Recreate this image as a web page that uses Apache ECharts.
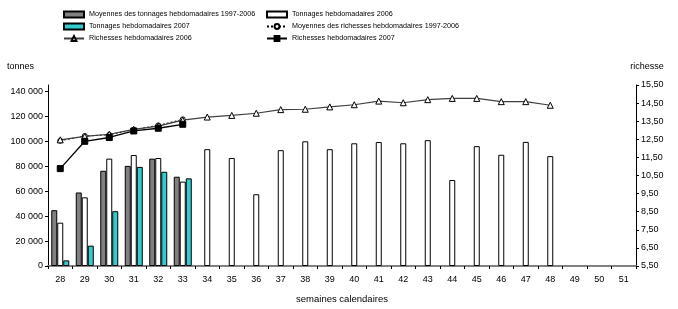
<!DOCTYPE html>
<html><head><meta charset="utf-8">
<script src="https://cdn.jsdelivr.net/npm/echarts@6/dist/echarts.min.js"></script>
<style>html,body{margin:0;padding:0;background:#fff}#c{width:678px;height:309px}</style>
</head><body><div id="c"></div>
<script>
const weeks = ['28','29','30','31','32','33','34','35','36','37','38','39','40','41','42','43','44','45','46','47','48','49','50','51'];
const moyTonnages = [44700, 58900, 76300, 80200, 86000, 71500];
const ton2006 = [34700, 55000, 86000, 88900, 86500, 67600, 93600, 86500, 57500, 92800, 99900, 93600, 98300, 99300, 98300, 100800, 68900, 96000, 89100, 99400, 88000];
const ton2007 = [4500, 16300, 43900, 79400, 75500, 70200];
const rich2006 = [12.47, 12.66, 12.78, 13.05, 13.23, 13.56, 13.73, 13.82, 13.94, 14.14, 14.16, 14.29, 14.41, 14.61, 14.52, 14.69, 14.76, 14.76, 14.58, 14.58, 14.38];
const moyRich = [12.42, 12.68, 12.75, 13.03, 13.27, 13.60];
const rich2007 = [10.88, 12.39, 12.60, 12.96, 13.11, 13.33];
const leftTicks = {min: 0, max: 145000, interval: 20000};
const rightTicks = {min: 5.5, max: 15.5, interval: 1};

const names = {
  mt: 'Moyennes des tonnages hebdomadaires 1997-2006',
  t6: 'Tonnages hebdomadaires 2006',
  t7: 'Tonnages hebdomadaires 2007',
  mr: 'Moyennes des richesses hebdomadaires 1997-2006',
  r6: 'Richesses hebdomadaires 2006',
  r7: 'Richesses hebdomadaires 2007'
};
const FONT = 'Liberation Sans, Arial, sans-serif';
const txt = {fontFamily: FONT, fontSize: 9, color: '#000'};
const chart = echarts.init(document.getElementById('c'), null, {renderer: 'canvas'});
const legendBase = {
  orient: 'vertical', top: 10, itemWidth: 20, itemHeight: 6, itemGap: 3,
  textStyle: {fontFamily: FONT, fontSize: 7.2, color: '#000', lineHeight: 9}, selectedMode: false, padding: 0
};
chart.setOption({
  animation: false,
  backgroundColor: '#fff',
  legend: [
    Object.assign({}, legendBase, {left: 63, data: [
      {name: names.mt, icon: 'rect'}, {name: names.t7, icon: 'rect'}, {name: names.r6}]}),
    Object.assign({}, legendBase, {left: 266, data: [
      {name: names.t6, icon: 'rect'}, {name: names.mr}, {name: names.r7}]})
  ],
  grid: {left: 48, right: 42, top: 85, bottom: 40},
  xAxis: {
    type: 'category', data: weeks, boundaryGap: true,
    name: 'semaines calendaires', nameLocation: 'middle', nameGap: 28,
    nameTextStyle: Object.assign({}, txt, {fontSize: 9.5}),
    axisLine: {lineStyle: {color: '#808080', width: 2}},
    axisTick: {show: true, length: 3, lineStyle: {color: '#000', width: 1}},
    axisLabel: Object.assign({}, txt, {margin: 9})
  },
  yAxis: [
    {
      type: 'value', min: leftTicks.min, max: leftTicks.max, interval: leftTicks.interval,
      name: 'tonnes', nameLocation: 'end', nameGap: 14,
      nameTextStyle: Object.assign({}, txt, {align: 'right', padding: [0, 14, 0, 0]}),
      splitLine: {show: false},
      axisLine: {show: true, lineStyle: {color: '#000', width: 1}},
      axisTick: {show: true, length: 3, lineStyle: {color: '#000'}},
      axisLabel: Object.assign({}, txt, {margin: 5, showMaxLabel: false,
        formatter: v => String(v).replace(/\B(?=(\d{3})+(?!\d))/g, ' ')})
    },
    {
      type: 'value', min: rightTicks.min, max: rightTicks.max, interval: rightTicks.interval,
      name: 'richesse', nameLocation: 'end', nameGap: 14,
      nameTextStyle: Object.assign({}, txt, {align: 'center', padding: [0, 0, 0, 22]}),
      splitLine: {show: false},
      axisLine: {show: true, lineStyle: {color: '#000', width: 1}},
      axisTick: {show: true, length: 3, lineStyle: {color: '#000'}},
      axisLabel: Object.assign({}, txt, {margin: 5,
        formatter: v => v.toFixed(2).replace('.', ',')})
    }
  ],
  series: [
    {name: names.mt, type: 'bar', data: moyTonnages, barWidth: 6, barGap: '0%',
     itemStyle: {color: '#808080', borderColor: '#000', borderWidth: 1}},
    {name: names.t6, type: 'bar', data: ton2006, barWidth: 6, barGap: '0%',
     itemStyle: {color: '#fff', borderColor: '#000', borderWidth: 1}},
    {name: names.t7, type: 'bar', data: ton2007, barWidth: 6, barGap: '0%',
     itemStyle: {color: '#33CCCC', borderColor: '#000', borderWidth: 1}},
    {name: names.mr, type: 'line', yAxisIndex: 1, data: moyRich,
     symbol: 'circle', symbolSize: 5,
     lineStyle: {color: '#000', width: 1, type: [2, 2]},
     itemStyle: {color: '#fff', borderColor: '#000', borderWidth: 1}},
    {name: names.r6, type: 'line', yAxisIndex: 1, data: rich2006,
     symbol: 'triangle', symbolSize: 6,
     lineStyle: {color: '#404040', width: 1.2},
     itemStyle: {color: '#fff', borderColor: '#000', borderWidth: 1}},
    {name: names.r7, type: 'line', yAxisIndex: 1, data: rich2007,
     symbol: 'rect', symbolSize: 6,
     lineStyle: {color: '#000', width: 1.3},
     itemStyle: {color: '#000', borderColor: '#000', borderWidth: 1}}
  ]
});
</script></body></html>
